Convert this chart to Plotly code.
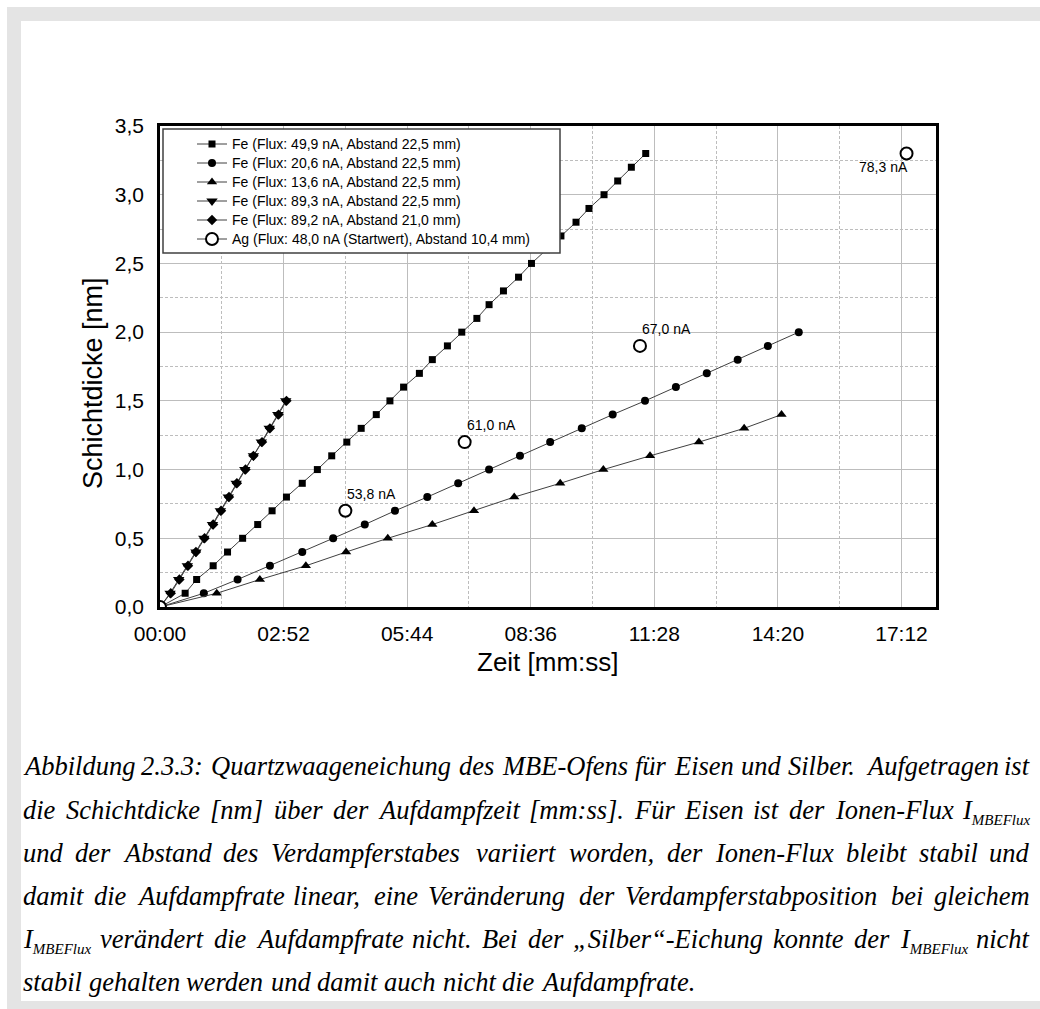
import plotly.graph_objects as go

# ---------------------------------------------------------------- data
# time in seconds (shown as mm:ss), layer thickness in nm
tick_seconds = [0, 172, 344, 516, 688, 860, 1032]
tick_labels = ["00:00", "02:52", "05:44", "08:36", "11:28", "14:20", "17:12"]
y_tick_values = [0.0, 0.5, 1.0, 1.5, 2.0, 2.5, 3.0, 3.5]
y_tick_labels = ["0,0", "0,5", "1,0", "1,5", "2,0", "2,5", "3,0", "3,5"]

# Fe, flux 49.9 nA, distance 22.5 mm
fe499_t = [0, 35, 51, 74, 94, 115, 136, 156, 176, 198, 219, 239, 260, 280, 301,
           320, 339, 361, 379, 400, 420, 441, 458, 478, 499, 517, 538, 558, 579,
           597, 618, 637, 656, 676]
fe499_d = [0.0, 0.1, 0.2, 0.3, 0.4, 0.5, 0.6, 0.7, 0.8, 0.9, 1.0, 1.1, 1.2, 1.3,
           1.4, 1.5, 1.6, 1.7, 1.8, 1.9, 2.0, 2.1, 2.2, 2.3, 2.4, 2.5, 2.6, 2.7,
           2.8, 2.9, 3.0, 3.1, 3.2, 3.3]

# Fe, flux 20.6 nA, distance 22.5 mm
fe206_t = [0, 61, 108, 153, 198, 241, 285, 327, 372, 415, 458, 501, 543, 587,
           630, 675, 718, 761, 804, 846, 889]
fe206_d = [0.0, 0.1, 0.2, 0.3, 0.4, 0.5, 0.6, 0.7, 0.8, 0.9, 1.0, 1.1, 1.2, 1.3,
           1.4, 1.5, 1.6, 1.7, 1.8, 1.9, 2.0]

# Fe, flux 13.6 nA, distance 22.5 mm
fe136_t = [0, 79, 139, 203, 259, 317, 379, 437, 493, 557, 617, 682, 750, 813, 865]
fe136_d = [0.0, 0.1, 0.2, 0.3, 0.4, 0.5, 0.6, 0.7, 0.8, 0.9, 1.0, 1.1, 1.2, 1.3, 1.4]

# Fe, flux 89.3 nA, distance 22.5 mm
fe893_t = [0, 14, 26, 38, 50, 61, 73, 84, 95, 106, 118, 130, 141, 152, 164, 175]
fe893_d = [0.0, 0.1, 0.2, 0.3, 0.4, 0.5, 0.6, 0.7, 0.8, 0.9, 1.0, 1.1, 1.2, 1.3,
           1.4, 1.5]

# Fe, flux 89.2 nA, distance 21.0 mm
fe892_t = [0, 15, 27, 39, 50, 62, 74, 85, 96, 107, 119, 130, 142, 153, 165, 176]
fe892_d = [0.0, 0.1, 0.2, 0.3, 0.4, 0.5, 0.6, 0.7, 0.8, 0.9, 1.0, 1.1, 1.2, 1.3,
           1.4, 1.5]

# Ag, flux drifting upwards (start value 48.0 nA), distance 10.4 mm
ag_t = [0, 258, 424, 668, 1039]
ag_d = [0.0, 0.7, 1.2, 1.9, 3.3]
ag_flux = [48.0, 53.8, 61.0, 67.0, 78.3]

series_names = [
    "Fe (Flux: 49,9 nA, Abstand 22,5 mm)",
    "Fe (Flux: 20,6 nA, Abstand 22,5 mm)",
    "Fe (Flux: 13,6 nA, Abstand 22,5 mm)",
    "Fe (Flux: 89,3 nA, Abstand 22,5 mm)",
    "Fe (Flux: 89,2 nA, Abstand 21,0 mm)",
    "Ag (Flux: 48,0 nA (Startwert), Abstand 10,4 mm)",
]

caption_lines = [
    "Abbildung 2.3.3: Quartzwaageneichung des MBE-Ofens für Eisen und Silber. Aufgetragen ist",
    "die Schichtdicke [nm] über der Aufdampfzeit [mm:ss]. Für Eisen ist der Ionen-Flux I_MBEFlux",
    "und der Abstand des Verdampferstabes variiert worden, der Ionen-Flux bleibt stabil und",
    "damit die Aufdampfrate linear, eine Veränderung der Verdampferstabposition bei gleichem",
    "I_MBEFlux verändert die Aufdampfrate nicht. Bei der „Silber“-Eichung konnte der I_MBEFlux nicht",
    "stabil gehalten werden und damit auch nicht die Aufdampfrate.",
]

# ---------------------------------------------------------------- geometry
W, H = 1040, 1009
ML, MR, MT, MB = 160, 104, 126, 402
PW, PH = W - ML - MR, H - MT - MB


def px(x):
    return (x - ML) / PW


def py(y):
    return 1 - (y - MT) / PH


SANS = "Arial, Liberation Sans, Helvetica, sans-serif"
SERIF = "Times New Roman, Liberation Serif, serif"
LINE_COLOR = "#404040"

fig = go.Figure()

fe_series = [
    (fe499_t, fe499_d, "square", 7),
    (fe206_t, fe206_d, "circle", 8),
    (fe136_t, fe136_d, "triangle-up", 9),
    (fe893_t, fe893_d, "triangle-down", 10),
    (fe892_t, fe892_d, "diamond", 8),
]
for (t, d, sym, size), name in zip(fe_series, series_names):
    fig.add_trace(go.Scatter(
        x=t, y=d, name=f"<span style='font-size:14px'>{name}</span>",
        mode="lines+markers",
        line=dict(color=LINE_COLOR, width=1),
        marker=dict(symbol=sym, size=size, color="black", line=dict(width=0)),
    ))

# Ag points are not connected; gaps keep the line only in the legend symbol
ag_x, ag_y = [], []
for t, d in zip(ag_t, ag_d):
    ag_x += [t, None]
    ag_y += [d, None]
fig.add_trace(go.Scatter(
    x=ag_x, y=ag_y, name=f"<span style='font-size:14px'>{series_names[5]}</span>",
    mode="lines+markers", connectgaps=False,
    line=dict(color=LINE_COLOR, width=1),
    marker=dict(symbol="circle", size=12, color="white",
                line=dict(color="black", width=2)),
))

annotations = []
for i, (t, d, f) in enumerate(zip(ag_t, ag_d, ag_flux)):
    if i == 0:
        continue
    label = f"{f:.1f}".replace(".", ",") + " nA"
    if i == len(ag_t) - 1:
        annotations.append(dict(x=t, y=d, xref="x", yref="y", text=label,
                                showarrow=False, xanchor="right", yanchor="top",
                                xshift=3, yshift=-4,
                                font=dict(family=SANS, size=14, color="black")))
    else:
        annotations.append(dict(x=t, y=d, xref="x", yref="y", text=label,
                                showarrow=False, xanchor="left", yanchor="bottom",
                                xshift=0, yshift=7,
                                font=dict(family=SANS, size=14, color="black")))

# axis titles
annotations.append(dict(x=px(93), y=py(383), xref="paper", yref="paper",
                        text="Schichtdicke [nm]", textangle=-90, showarrow=False,
                        xanchor="center", yanchor="middle",
                        font=dict(family=SANS, size=27, color="black")))
annotations.append(dict(x=px(548), y=py(662), xref="paper", yref="paper",
                        text="Zeit [mm:ss]", showarrow=False,
                        xanchor="center", yanchor="middle",
                        font=dict(family=SANS, size=26, color="black")))

# ---------------------------------------------------------------- caption
# Times italic advance widths (per 1000 em) for justified word placement
TW = {" ": 250, "a": 500, "b": 500, "c": 444, "d": 500, "e": 444, "f": 278,
      "g": 500, "h": 500, "i": 278, "j": 278, "k": 444, "l": 278, "m": 722,
      "n": 500, "o": 500, "p": 500, "q": 500, "r": 389, "s": 389, "t": 278,
      "u": 500, "v": 444, "w": 667, "x": 444, "y": 444, "z": 389,
      "A": 611, "B": 611, "C": 667, "D": 722, "E": 611, "F": 611, "G": 722,
      "H": 722, "I": 333, "J": 444, "K": 667, "L": 556, "M": 833, "N": 667,
      "O": 722, "P": 611, "Q": 722, "R": 611, "S": 500, "T": 556, "U": 722,
      "V": 611, "W": 833, "X": 611, "Y": 556, "Z": 556,
      "0": 500, "1": 500, "2": 500, "3": 500, "4": 500, "5": 500, "6": 500,
      "7": 500, "8": 500, "9": 500, ".": 250, ",": 250, ":": 333, "-": 333,
      "[": 389, "]": 389, "(": 333, ")": 333, "ä": 500, "ü": 500, "ö": 500,
      "„": 556, "“": 556}

CAP_SIZE = 26.5
SUB_SIZE = 15
LEFT, RIGHT = 23, 1030
BASE0, LEAD = 775, 43.2


def str_w(s, size):
    return sum(TW.get(c, 500) for c in s) * size / 1000


def word_html(w):
    if w.startswith("I_"):
        return (f"I<sub><span style='font-size:{SUB_SIZE}px'>{w[2:]}</span></sub>",
                str_w("I", CAP_SIZE) + str_w(w[2:], SUB_SIZE))
    return w, str_w(w, CAP_SIZE)


for li, line in enumerate(caption_lines):
    words = [word_html(w) for w in line.split(" ")]
    top = BASE0 + li * LEAD - 0.891 * CAP_SIZE
    justify = li < len(caption_lines) - 1
    total = sum(wd for _, wd in words)
    gap = (RIGHT - LEFT - total) / (len(words) - 1) if justify else str_w(" ", CAP_SIZE)
    xpos = LEFT
    for wi, (html, wd) in enumerate(words):
        last = justify and wi == len(words) - 1
        annotations.append(dict(
            x=px(RIGHT if last else xpos), y=py(top), xref="paper", yref="paper",
            text=html, showarrow=False, xanchor="right" if last else "left",
            yanchor="top", borderpad=0, borderwidth=0,
            font=dict(family=SERIF, size=CAP_SIZE, color="black", style="italic")))
        xpos += wd + gap

# ---------------------------------------------------------------- shapes
shapes = [
    # page frame
    dict(type="rect", xref="paper", yref="paper", x0=px(7), x1=px(W + 20),
         y0=py(H + 20), y1=py(7), fillcolor="#e4e4e4", line=dict(width=0),
         layer="below"),
    dict(type="rect", xref="paper", yref="paper", x0=px(21), x1=px(W + 20),
         y0=py(1001), y1=py(21), fillcolor="white", line=dict(width=0),
         layer="below"),
    # legend box
    dict(type="rect", xref="paper", yref="paper", x0=px(163), x1=px(560),
         y0=py(253), y1=py(129), fillcolor="white",
         line=dict(color=LINE_COLOR, width=1.5), layer="above"),
]

GRID = "#bdbdbd"
fig.update_xaxes(
    range=[0, 1080], tickmode="array", tickvals=tick_seconds, ticktext=tick_labels,
    showline=True, linecolor="black", linewidth=2.5, mirror=True,
    showgrid=True, gridcolor=GRID, gridwidth=1, zeroline=False,
    ticks="", ticklabelstandoff=6,
    tickfont=dict(family=SANS, size=21, color="black"),
    minor=dict(tickmode="array",
               tickvals=[t + (tick_seconds[1] - tick_seconds[0]) / 2 for t in tick_seconds],
               showgrid=True, gridcolor=GRID, gridwidth=1, griddash="3px,2px"),
)
fig.update_yaxes(
    range=[0, 3.5], tickmode="array", tickvals=y_tick_values, ticktext=y_tick_labels,
    showline=True, linecolor="black", linewidth=2.5, mirror=True,
    showgrid=True, gridcolor=GRID, gridwidth=1, zeroline=False,
    ticks="", ticklabelstandoff=9,
    tickfont=dict(family=SANS, size=21, color="black"),
    minor=dict(tickmode="array",
               tickvals=[v + 0.25 for v in y_tick_values],
               showgrid=True, gridcolor=GRID, gridwidth=1, griddash="3px,2px"),
)

fig.update_layout(
    width=W, height=H, autosize=False,
    margin=dict(l=ML, r=MR, t=MT, b=MB, pad=0),
    paper_bgcolor="white", plot_bgcolor="white",
    showlegend=True,
    legend=dict(x=px(192), y=py(129.5), xref="paper", yref="paper",
                xanchor="left", yanchor="top", bgcolor="rgba(0,0,0,0)",
                borderwidth=0, tracegroupgap=0,
                font=dict(family=SANS, size=12, color="black")),
    annotations=annotations,
    shapes=shapes,
)

fig.write_html("out.html")
